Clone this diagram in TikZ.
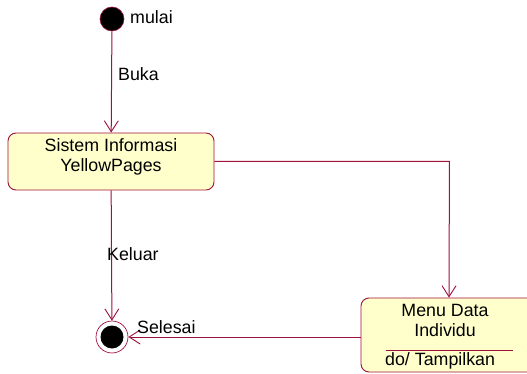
\documentclass[tikz,border=0pt]{standalone}
\usepackage{fontspec}
\setmainfont{Liberation Sans}
\usetikzlibrary{arrows.meta}
\definecolor{edge}{HTML}{A0103C}
\definecolor{statefill}{HTML}{FFFFCC}
\tikzset{
  flow/.style={draw=edge, line width=1pt, -{Straight Barb[length=11pt,width=14pt,line width=0.9pt]}},
  statebox/.style={draw=edge, line width=0.9pt, fill=statefill, rounded corners=8pt, inner sep=0pt},
  lbl/.style={font=\fontsize{17.8}{20}\selectfont, inner sep=0pt, text=black},
}
\begin{document}
\begin{tikzpicture}[x=1pt, y=-1pt]
\clip (0,0) rectangle (527,374);
\fill[white] (0,0) rectangle (527,374);

% initial state
\node[circle, fill=black, draw=edge, line width=0.6pt, minimum size=24pt, inner sep=0pt] (start) at (112,19) {};
\node[lbl, anchor=west] (mulai) at (130,17) {mulai};

% main state
\node[statebox, minimum width=206pt, minimum height=57pt] (sis) at (111,161.5) {};
\node[lbl, align=center] (sistxt) at (111,157) {Sistem Informasi\\YellowPages};

% menu state (runs past the right edge)
\node[statebox, minimum width=176pt, minimum height=74pt] (menu) at (449,335) {};
\node[lbl, align=center] (menutxt) at (445,320) {Menu Data\\Individu};
\draw[edge, line width=0.9pt] (386,350) -- (513,350);
\node[lbl, anchor=west] (dotxt) at (385,361) {do/ Tampilkan};

% final state
\node[circle, draw=edge, fill=white, line width=0.7pt, minimum size=32pt, inner sep=0pt] (final) at (112,337) {};
\node[circle, fill=black, minimum size=23pt, inner sep=0pt] (finalin) at (112,337) {};

% transitions
\draw[flow] (start) -- (sis);
\node[lbl, anchor=west] (buka) at (118,74) {Buka};
\draw[flow] (sis.east) -- ++(235,0) coordinate (bend) -- (menu.north);
\draw[flow] (sis) -- (final);
\node[lbl, anchor=west] (keluar) at (107,254) {Keluar};
\draw[flow] (menu.west |- final) -- (final);
\node[lbl, anchor=west] (selesai) at (137,327) {Selesai};
\end{tikzpicture}
\end{document}
